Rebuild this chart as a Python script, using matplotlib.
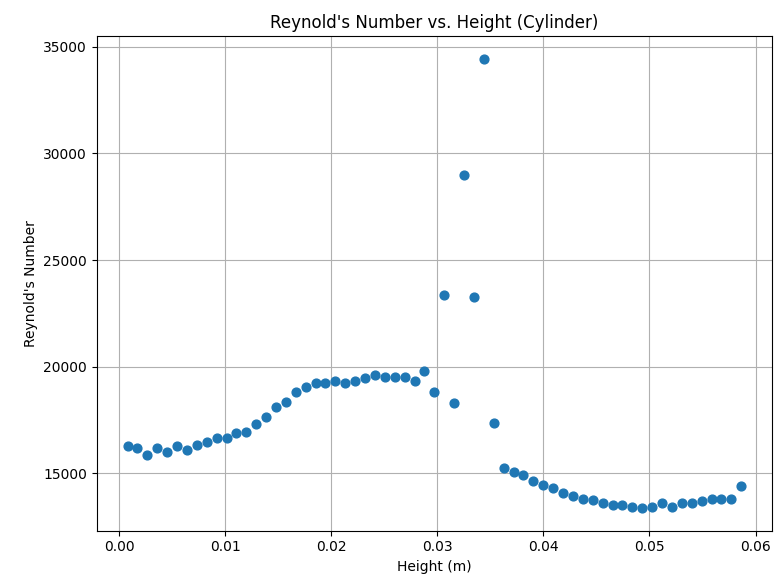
import matplotlib
matplotlib.use("Agg")
import matplotlib.pyplot as plt

# heights (m)
height = [
    0.00080, 0.00173, 0.00267, 0.00360, 0.00453, 0.00547, 0.00640, 0.00733,
    0.00826, 0.00920, 0.01013, 0.01106, 0.01200, 0.01293, 0.01386, 0.01480,
    0.01573, 0.01666, 0.01759, 0.01853, 0.01946, 0.02039, 0.02133, 0.02226,
    0.02319, 0.02413, 0.02506, 0.02599, 0.02692, 0.02786, 0.02879, 0.02972,
    0.03066, 0.03159, 0.03252, 0.03346, 0.03439, 0.03532, 0.03625, 0.03719,
    0.03812, 0.03905, 0.03999, 0.04092, 0.04185, 0.04279, 0.04372, 0.04465,
    0.04558, 0.04652, 0.04745, 0.04838, 0.04932, 0.05025, 0.05118, 0.05211,
    0.05305, 0.05398, 0.05491, 0.05585, 0.05678, 0.05771, 0.05865,
]

reynolds = [
    16290, 16170, 15860, 16170, 16000, 16250, 16090, 16310, 16450, 16670,
    16650, 16880, 16950, 17300, 17650, 18080, 18360, 18800, 19060, 19220,
    19220, 19300, 19220, 19300, 19450, 19610, 19530, 19530, 19530, 19340,
    19800, 18810, 23360, 18310, 28980, 23280, 34450, 17350, 15260, 15030,
    14890, 14650, 14450, 14300, 14090, 13940, 13800, 13750, 13590, 13510,
    13510, 13430, 13360, 13430, 13620, 13430, 13590, 13590, 13700, 13780,
    13780, 13800, 14400,
]

fig = plt.figure(figsize=(7.75, 5.83), dpi=100)
ax = fig.add_axes([0.125, 0.09, 0.871, 0.848])
ax.scatter(height, reynolds, s=40, color="#1f77b4", zorder=3)
ax.grid(True)
ax.set_title("Reynold's Number vs. Height (Cylinder)")
ax.set_xlabel("Height (m)")
ax.set_ylabel("Reynold's Number")

fig.savefig("out.png", dpi=100)
